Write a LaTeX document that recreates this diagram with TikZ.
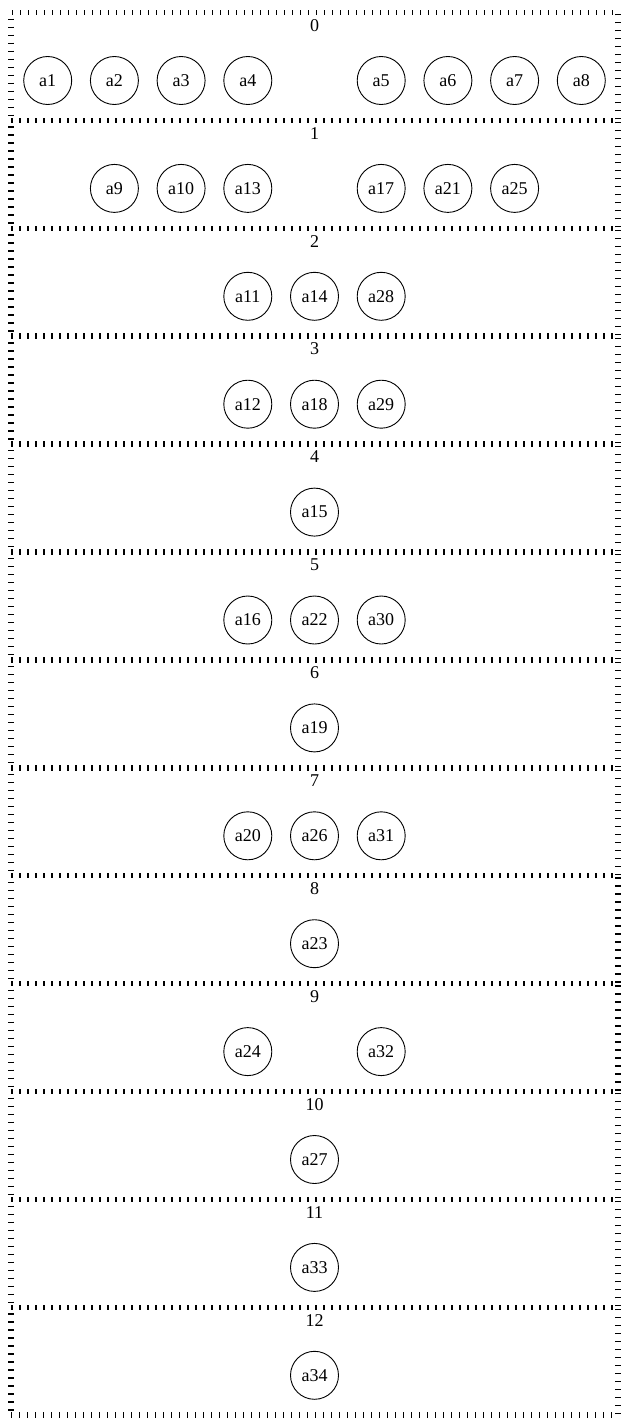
\documentclass[tikz,border=0pt]{standalone}
\usepackage{fontspec}
\setmainfont{Liberation Serif}
\tikzset{
  state/.style={circle,draw,line width=.9pt,minimum size=48pt,inner sep=0pt,
                font=\fontsize{18}{21}\selectfont},
  frame/.style={draw,line width=5.5pt,dash pattern=on 1.2pt off 6.8pt,
                minimum width=607pt,minimum height=107.9pt,inner sep=0pt},
  lbl/.style={font=\fontsize{18}{21}\selectfont,inner sep=0pt}
}
\begin{document}
\begin{tikzpicture}[x=1pt,y=1pt]
  \useasboundingbox (0,0) rectangle (630,-1426);
  % the thirteen levels
  \foreach \r in {0,...,12}{
    \node[frame] (k\r) at (314.5,{-(12.5+107.9*\r+53.95)}) {};
    \node[lbl] (l\r) at ([yshift=-15.5pt]k\r.north) {\r};
  }
  % states: level/column/name
  \foreach \r/\c/\n in {0/-4/a1,0/-3/a2,0/-2/a3,0/-1/a4,0/1/a5,0/2/a6,0/3/a7,0/4/a8,
      1/-3/a9,1/-2/a10,1/-1/a13,1/1/a17,1/2/a21,1/3/a25,
      2/-1/a11,2/0/a14,2/1/a28,
      3/-1/a12,3/0/a18,3/1/a29,
      4/0/a15,
      5/-1/a16,5/0/a22,5/1/a30,
      6/0/a19,
      7/-1/a20,7/0/a26,7/1/a31,
      8/0/a23,
      9/-1/a24,9/1/a32,
      10/0/a27,
      11/0/a33,
      12/0/a34}
    \node[state] (\n) at ({314.5+66.7*\c},{-(12.5+107.9*\r+68)}) {\n};
\end{tikzpicture}
\end{document}
